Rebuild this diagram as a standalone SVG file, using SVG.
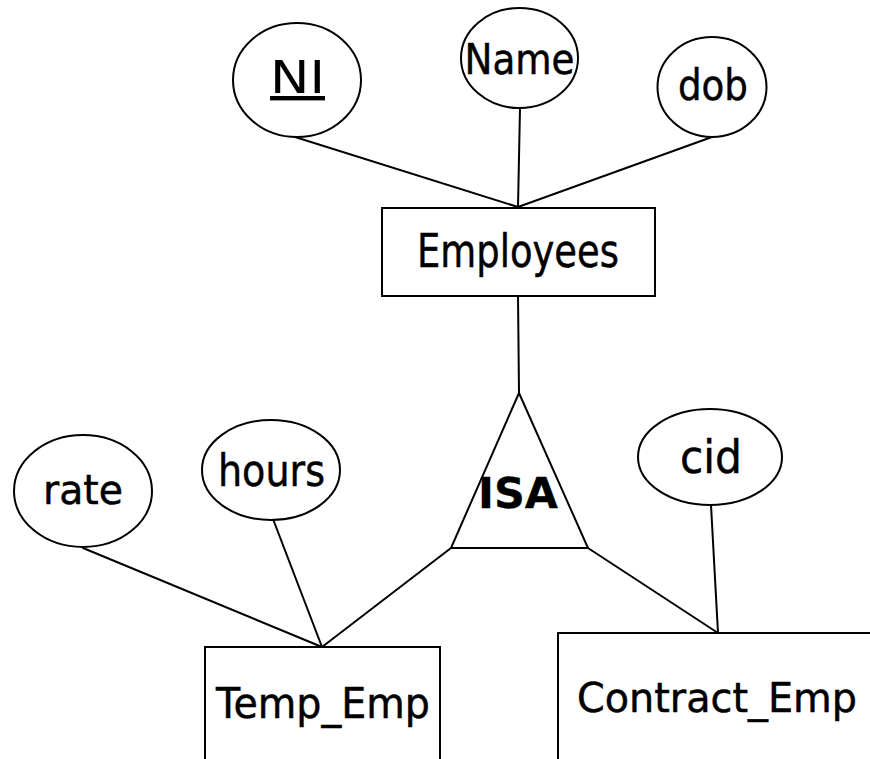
<svg xmlns="http://www.w3.org/2000/svg" width="870" height="759" viewBox="0 0 870 759">
  <style>
    .shape { fill: #ffffff; stroke: #000000; stroke-width: 2; }
    .link { stroke: #000000; stroke-width: 2; fill: none; stroke-linecap: round; }
    .lbl { font-family: "Comic Sans MS", "DejaVu Sans", sans-serif; fill: #000000; stroke: #000000; stroke-width: 0.5; text-anchor: middle; }
    .key { stroke-width: 0; }
    .isa { font-weight: bold; stroke-width: 0.3; }
  </style>
  <rect width="870" height="759" fill="#ffffff"/>

  <!-- connectors -->
  <g id="connectors">
    <line class="link" x1="295" y1="137" x2="518" y2="207"/>
    <line class="link" x1="520" y1="108" x2="518" y2="207"/>
    <line class="link" x1="712" y1="137" x2="518" y2="207"/>
    <line class="link" x1="518" y1="296" x2="519" y2="393"/>
    <line class="link" x1="451" y1="548" x2="322" y2="647"/>
    <line class="link" x1="588" y1="548" x2="718" y2="633"/>
    <line class="link" x1="83" y1="548" x2="322" y2="647"/>
    <line class="link" x1="273" y1="519" x2="322" y2="647"/>
    <line class="link" x1="711" y1="505" x2="718" y2="633"/>
  </g>

  <!-- attributes of Employees -->
  <g id="attr-ni">
    <ellipse class="shape" cx="297" cy="80" rx="64" ry="57"/>
    <text class="lbl key" x="297.5" y="93" font-size="44" textLength="55" lengthAdjust="spacingAndGlyphs" text-decoration="underline">NI</text>
  </g>
  <g id="attr-name">
    <ellipse class="shape" cx="519.5" cy="58" rx="58.5" ry="50"/>
    <text class="lbl" x="519.5" y="74" font-size="43" textLength="110" lengthAdjust="spacingAndGlyphs">Name</text>
  </g>
  <g id="attr-dob">
    <ellipse class="shape" cx="712" cy="87" rx="54.5" ry="50"/>
    <text class="lbl" x="713" y="100" font-size="42" textLength="70" lengthAdjust="spacingAndGlyphs">dob</text>
  </g>

  <!-- entity Employees -->
  <g id="employees">
    <rect class="shape" x="382" y="208" width="273" height="88"/>
    <text class="lbl" x="518" y="267" font-size="46" textLength="202" lengthAdjust="spacingAndGlyphs">Employees</text>
  </g>

  <!-- ISA specialisation -->
  <g id="isa">
    <polygon class="shape" points="519,393 451,548 588,548"/>
    <text class="lbl isa" x="518" y="508" font-size="42" textLength="80" lengthAdjust="spacingAndGlyphs">ISA</text>
  </g>

  <!-- attributes of subclasses -->
  <g id="attr-rate">
    <ellipse class="shape" cx="83" cy="491" rx="69" ry="56"/>
    <text class="lbl" x="83" y="504" font-size="40" textLength="80" lengthAdjust="spacingAndGlyphs">rate</text>
  </g>
  <g id="attr-hours">
    <ellipse class="shape" cx="271" cy="470" rx="69" ry="50"/>
    <text class="lbl" x="271.5" y="486" font-size="44" textLength="107" lengthAdjust="spacingAndGlyphs">hours</text>
  </g>
  <g id="attr-cid">
    <ellipse class="shape" cx="710" cy="457" rx="72" ry="48"/>
    <text class="lbl" x="711" y="473" font-size="47" textLength="62" lengthAdjust="spacingAndGlyphs">cid</text>
  </g>

  <!-- subclass entities -->
  <g id="temp-emp">
    <rect class="shape" x="205" y="647" width="235" height="140"/>
    <text class="lbl" x="323" y="718" font-size="42" textLength="214" lengthAdjust="spacingAndGlyphs">Temp_Emp</text>
  </g>
  <g id="contract-emp">
    <rect class="shape" x="558" y="633" width="340" height="140"/>
    <text class="lbl" x="717" y="712" font-size="41" textLength="280" lengthAdjust="spacingAndGlyphs">Contract_Emp</text>
  </g>
</svg>
